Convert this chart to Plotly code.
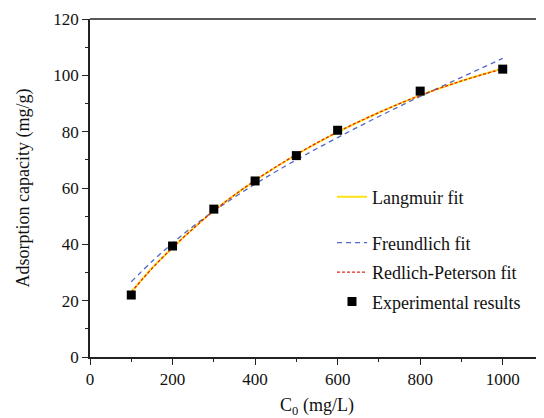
import plotly.graph_objects as go

# Experimental data
exp_x = [100, 200, 300, 400, 500, 600, 800, 1000]
exp_y = [22.0, 39.4, 52.5, 62.5, 71.5, 80.5, 94.4, 102.2]

# Fitted curves
fit_x = [100, 150, 200, 250, 300, 400, 500, 600, 700, 800, 900, 1000]
lang_y = [23.1, 31.5, 38.8, 45.6, 51.9, 62.6, 71.8, 79.8, 86.8, 92.9, 98.0, 102.4]
freu_y = [26.7, 33.9, 40.4, 46.4, 51.8, 61.4, 70.0, 77.9, 85.4, 92.5, 99.3, 106.0]
rp_y = [23.0, 31.4, 38.8, 45.6, 51.9, 62.7, 71.9, 79.9, 86.8, 92.9, 98.0, 102.3]

x_ticks = [0, 200, 400, 600, 800, 1000]
y_ticks = [0, 20, 40, 60, 80, 100, 120]

FONT = "Liberation Serif, Times New Roman, serif"
FS = 17
FT = 18

fig = go.Figure()
fig.add_trace(go.Scatter(x=fit_x, y=lang_y, mode="lines", name="Langmuir fit",
                         line=dict(color="#fbe214", width=2, shape="spline"),
                         legend="legend2"))
fig.add_trace(go.Scatter(x=fit_x, y=freu_y, mode="lines", name="Freundlich fit",
                         line=dict(color="#5465c8", width=1.3, dash="5px,4px", shape="spline"),
                         legendgroup="b"))
fig.add_trace(go.Scatter(x=fit_x, y=rp_y, mode="lines", name="Redlich-Peterson fit",
                         line=dict(color="#e8231f", width=1.3, dash="3px,2px", shape="spline"),
                         legendgroup="c"))
fig.add_trace(go.Scatter(x=exp_x, y=exp_y, mode="markers", name="Experimental results",
                         marker=dict(symbol="square", size=9, color="black"),
                         legendgroup="d"))

axis_common = dict(
    showline=True, linecolor="#222", linewidth=1.5,
    ticks="outside", ticklen=6, tickwidth=1.3, tickcolor="#222",
    showgrid=False, zeroline=False, automargin=False,
    tickfont=dict(family=FONT, size=FS, color="#111"),
)

fig.update_xaxes(range=[0, 1100], tickvals=x_ticks,
                 minor=dict(ticks="outside", ticklen=3, dtick=100, tick0=0, tickcolor="#222", tickwidth=1.2),
                 title=dict(text="C<sub>0</sub> (mg/L)", font=dict(family=FONT, size=FT, color="#111"), standoff=15),
                 **axis_common)
fig.update_yaxes(range=[0, 120], tickvals=y_ticks,
                 minor=dict(ticks="outside", ticklen=3, dtick=10, tick0=0, tickcolor="#222", tickwidth=1.2),
                 title=dict(text="Adsorption capacity (mg/g)", font=dict(family=FONT, size=FT, color="#111"), standoff=19),
                 **axis_common)

# top border line
fig.add_shape(type="line", xref="paper", yref="paper", x0=0, x1=1, y0=1, y1=1,
              line=dict(color="#222", width=1.5))

# page body has an 8px margin, so the figure is sized/offset to compensate
fig.update_layout(
    width=536, height=410,
    margin=dict(l=82, r=0, t=11, b=61),
    plot_bgcolor="white", paper_bgcolor="white",
    font=dict(family=FONT, size=FT, color="#111"),
    legend=dict(x=0.533, y=0.25, xanchor="left", yanchor="middle",
                bgcolor="rgba(0,0,0,0)", tracegroupgap=3, traceorder="grouped",
                font=dict(family=FONT, size=FT, color="#111")),
    legend2=dict(x=0.533, y=0.473, xanchor="left", yanchor="middle",
                 bgcolor="rgba(0,0,0,0)",
                 font=dict(family=FONT, size=FT, color="#111")),
)

fig.write_html("out.html")
